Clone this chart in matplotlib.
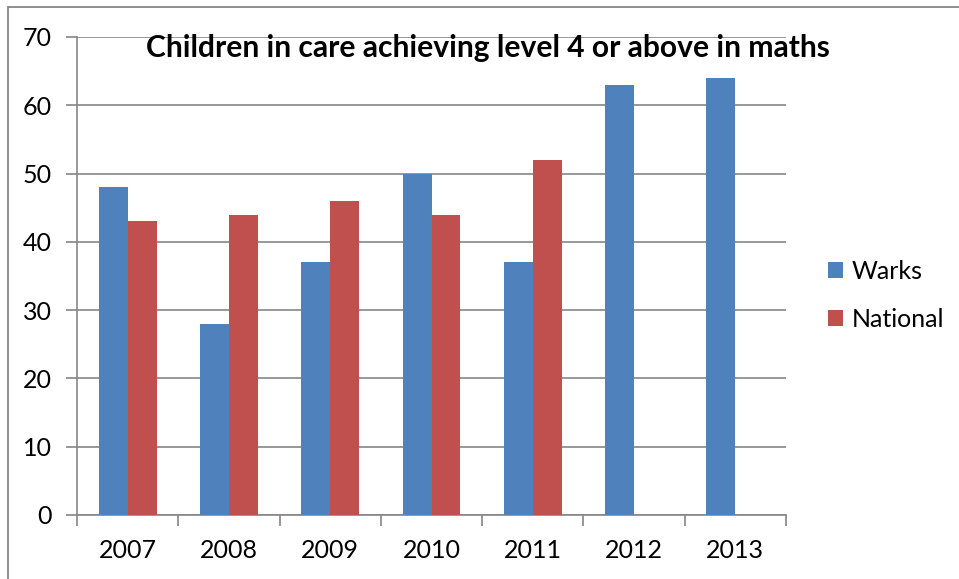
import numpy as np
import matplotlib.pyplot as plt
from matplotlib.patches import Rectangle

plt.rcParams['font.family'] = ['Lato', 'DejaVu Sans']

years = ['2007', '2008', '2009', '2010', '2011', '2012', '2013']
warks = [48, 28, 37, 50, 37, 63, 64]
national = [43, 44, 46, 44, 52, np.nan, np.nan]

blue = '#4F81BD'
red = '#C0504D'
grey = '#868686'

fig = plt.figure(figsize=(9.59, 5.79), dpi=100)
ax = fig.add_axes([77 / 959, 64 / 579, 709 / 959, 478 / 579])

x = np.arange(len(years))
w = 0.286
ax.bar(x + 0.5 - w / 2, warks, w, color=blue, label='Warks', zorder=3)
ax.bar(x + 0.5 + w / 2, national, w, color=red, label='National', zorder=3)

ax.set_xlim(0, len(years))
ax.set_ylim(0, 70)
ax.set_yticks(range(0, 71, 10))
ax.yaxis.grid(True, color=grey, linewidth=1.2, zorder=0)

# category boundaries get the tick marks, labels sit in the middle
ax.set_xticks(np.arange(len(years) + 1))
ax.set_xticklabels([])
ax.set_xticks(x + 0.5, minor=True)
ax.set_xticklabels(years, minor=True, fontsize=18)
ax.tick_params(axis='x', which='major', length=8, width=1.2, color=grey)
ax.tick_params(axis='x', which='minor', length=0, pad=17)
ax.tick_params(axis='y', length=8, width=1.2, color=grey, labelsize=18, pad=10)

for s in ['top', 'right']:
    ax.spines[s].set_visible(False)
for s in ['left', 'bottom']:
    ax.spines[s].set_color(grey)
    ax.spines[s].set_linewidth(1.2)

fig.text(488 / 959, 1 - 48 / 579, 'Children in care achieving level 4 or above in maths',
         ha='center', va='center', fontsize=21.6, fontweight='bold')

ax.legend(loc='center left', bbox_to_anchor=(1.028, 0.46), frameon=False,
          fontsize=18, handlelength=0.6, handleheight=0.6, handletextpad=0.35,
          labelspacing=1.0)

# outer chart border, only top and left edges fall inside the image
fig.add_artist(Rectangle((8 / 959, -0.05), 1.2, 1 - 7 / 579 + 0.05,
                         transform=fig.transFigure, fill=False,
                         edgecolor=grey, linewidth=1.3))

fig.savefig('out.png', dpi=100)
